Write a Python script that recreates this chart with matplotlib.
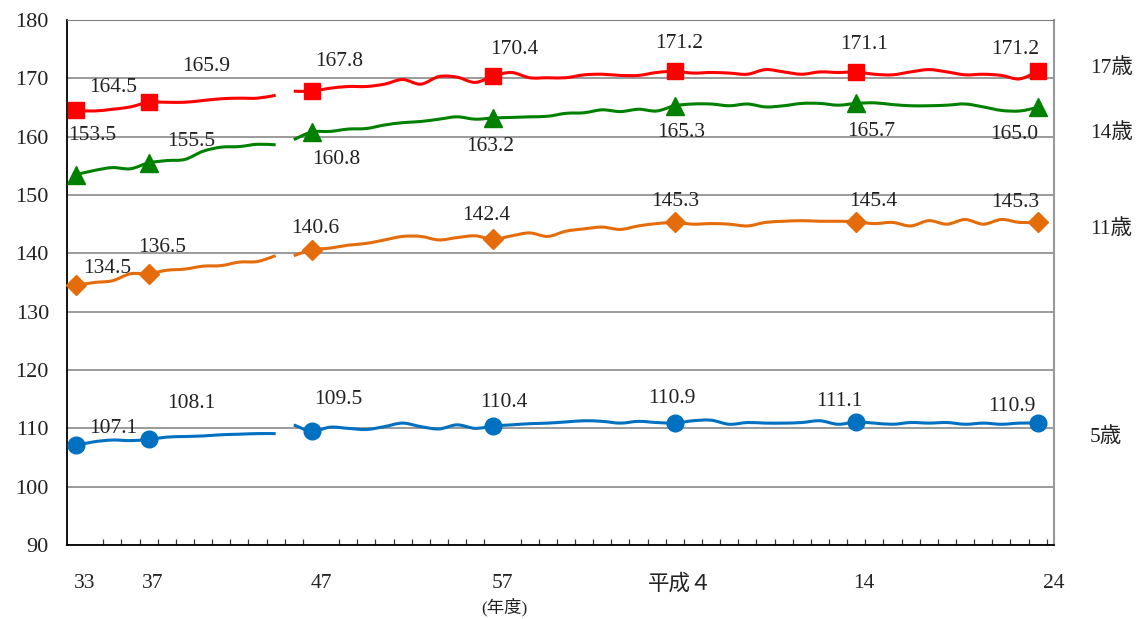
import numpy as np
import matplotlib
matplotlib.use("Agg")
import matplotlib.pyplot as plt
from matplotlib.path import Path
from matplotlib.patches import PathPatch
from matplotlib.ticker import FixedLocator

plt.rcParams['font.family'] = ['Liberation Serif', 'Noto Sans CJK JP']

# 年度 (昭和33～44, 46～平成24; 45年度は無し)
years = list(range(1958, 1970)) + list(range(1971, 2013))
gap_after = 11  # 線が途切れる位置 (index)

tick_labels = ["33", "37", "47", "57", "平成４", "14", "24"]
marker_idx = [0, 4, 13, 23, 33, 43, 53]

h17 = [164.5, 164.4, 164.7, 165.1, 165.9, 165.9, 165.9, 166.2, 166.5, 166.6,
       166.6, 167.1, 167.8, 167.8, 168.3, 168.6, 168.6, 169.0, 169.8, 169.0,
       170.3, 170.2, 169.3, 170.4, 171.0, 170.1, 170.1, 170.1, 170.6, 170.7,
       170.5, 170.5, 171.0, 171.2, 170.9, 171.0, 170.9, 170.7, 171.5, 171.1,
       170.7, 171.1, 171.0, 171.1, 170.7, 170.6, 171.1, 171.5, 171.1, 170.6,
       170.7, 170.5, 169.9, 171.2]
h14 = [153.5, 154.2, 154.7, 154.5, 155.5, 155.9, 156.1, 157.5, 158.2, 158.3,
       158.7, 158.6, 159.5, 160.8, 160.9, 161.3, 161.4, 162.0, 162.4, 162.6,
       163.0, 163.4, 163.0, 163.2, 163.3, 163.4, 163.5, 164.0, 164.1, 164.6,
       164.3, 164.7, 164.4, 165.3, 165.6, 165.6, 165.3, 165.6, 165.1, 165.3,
       165.7, 165.7, 165.4, 165.7, 165.8, 165.5, 165.3, 165.3, 165.4, 165.6,
       165.1, 164.5, 164.4, 165.0]
h11 = [134.5, 135.0, 135.3, 136.5, 136.5, 137.1, 137.3, 137.8, 137.9, 138.5,
       138.6, 139.6, 139.6, 140.6, 140.9, 141.4, 141.7, 142.3, 142.9, 142.9,
       142.3, 142.7, 143.0, 142.4, 143.0, 143.5, 142.9, 143.8, 144.2, 144.5,
       144.1, 144.7, 145.1, 145.3, 145.0, 145.1, 145.0, 144.7, 145.3, 145.5,
       145.6, 145.5, 145.5, 145.4, 145.1, 145.3, 144.7, 145.6, 145.0, 145.8,
       145.0, 145.8, 145.3, 145.3]
h5 = [107.1, 107.7, 108.0, 107.9, 108.1, 108.5, 108.6, 108.7, 108.9, 109.0,
      109.1, 109.1, 110.6, 109.5, 110.2, 110.0, 109.8, 110.3, 110.9, 110.3,
      109.9, 110.6, 110.0, 110.4, 110.6, 110.8, 110.9, 111.1, 111.3, 111.2,
      110.9, 111.2, 111.0, 110.9, 111.3, 111.4, 110.7, 111.0, 110.9, 110.9,
      111.0, 111.3, 110.7, 111.1, 110.9, 110.7, 111.0, 110.9, 111.0, 110.7,
      110.9, 110.7, 110.9, 110.9]

series = [
    # name, values, color, marker, markersize, label offsets (px)
    ("17歳", h17, "#FF0000", "s", 12,
     [(37, 23), (58, 36), (27, 30), (21, 26), (4, 28), (8, 27), (-23, 22)]),
    ("14歳", h14, "#008000", "^", 13.5,
     [(16, 39), (43, 21), (24, -27), (-3, -28), (6, -27), (15, -28), (-23, -27)]),
    ("11歳", h11, "#E46C0A", "D", 10,
     [(31, 17), (14, 26), (3, 21), (-7, 24), (0, 21), (17, 20), (-22, 20)]),
    ("5歳", h5, "#0070C0", "o", 12,
     [(37, 17), (43, 36), (26, 32), (10, 24), (-3, 25), (-17, 20), (-26, 17)]),
]
side_label_y = [171.8, 160.6, 144.2, 108.5]


def smooth_path(xs, ys):
    # Excel風のスムージング線 (Catmull-Rom -> 3次ベジェ)
    pts = np.column_stack([xs, ys]).astype(float)
    n = len(pts)
    verts = [pts[0]]
    codes = [Path.MOVETO]
    for i in range(n - 1):
        p0 = pts[max(i - 1, 0)]
        p1 = pts[i]
        p2 = pts[i + 1]
        p3 = pts[min(i + 2, n - 1)]
        verts += [p1 + (p2 - p0) / 6, p2 - (p3 - p1) / 6, p2]
        codes += [Path.CURVE4] * 3
    return Path(verts, codes)


fig = plt.figure(figsize=(11.39, 6.19), dpi=100)
ax = fig.add_axes([0.0588, 0.1195, 0.8666, 0.8482])

x = np.arange(len(years))
txtc = "#222222"
fs = 15.5

for (name, vals, col, mk, ms, offs), ly in zip(series, side_label_y):
    vals = np.array(vals)
    for seg in (slice(0, gap_after + 1), slice(gap_after + 1, None)):
        p = smooth_path(x[seg], vals[seg])
        ax.add_patch(PathPatch(p, facecolor="none", edgecolor=col, lw=2.2,
                               capstyle="butt", zorder=3))
    ax.plot(x[marker_idx], vals[marker_idx], linestyle="none", marker=mk,
            markersize=ms, color=col, zorder=4, clip_on=False)
    for i, (dx, dy) in zip(marker_idx, offs):
        ax.annotate(f"{vals[i]:.1f}", (x[i], vals[i]), xytext=(dx, dy),
                    textcoords="offset pixels", ha="center", va="center",
                    fontsize=fs, color=txtc, zorder=5)
    ax.text(1.0365, ly, name, transform=ax.get_yaxis_transform(),
            ha="left", va="center", fontsize=fs, color=txtc)

ax.set_xlim(-0.5, len(years) - 0.5)
ax.set_ylim(90, 180)
ax.set_yticks(np.arange(90, 181, 10))
ax.yaxis.grid(True, color="#808080", lw=1.1)
ax.set_axisbelow(True)

ax.set_xticks([0.5, 4.2, 13.5, 23.5, 33.3, 43.4, 53.9])
ax.set_xticklabels(tick_labels)
ax.xaxis.set_minor_locator(FixedLocator(np.arange(0.5, len(years), 1.0)))
ax.tick_params(axis="x", which="major", length=0, pad=21, labelsize=fs,
               labelcolor=txtc)
ax.tick_params(axis="x", which="minor", direction="in", length=4.5,
               width=0.9, color="#333333")
ax.tick_params(axis="y", length=0, pad=13, labelsize=16, labelcolor=txtc)

ax.spines["left"].set_color("black")
ax.spines["bottom"].set_color("black")
ax.spines["left"].set_linewidth(1.3)
ax.spines["bottom"].set_linewidth(1.3)
ax.spines["top"].set_color("#808080")
ax.spines["right"].set_color("#999999")
ax.spines["right"].set_linewidth(1.5)

ax.text(23.6, -0.118, "(年度)", transform=ax.get_xaxis_transform(),
        ha="center", va="center", fontsize=12.5, color=txtc)

fig.savefig("out.png", dpi=100)
